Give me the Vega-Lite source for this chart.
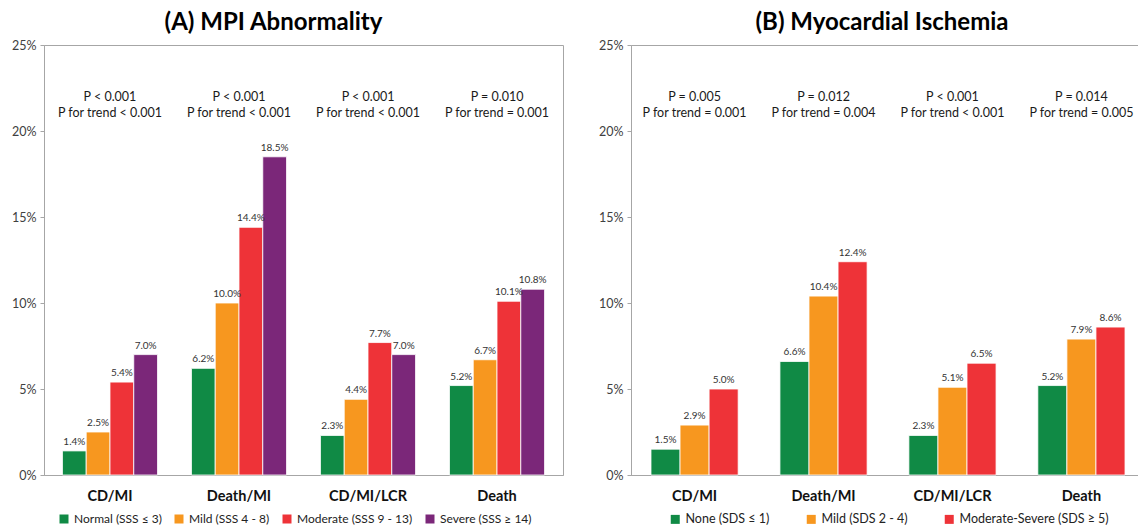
{
  "$schema": "https://vega.github.io/schema/vega-lite/v6.json",
  "background": "white",
  "padding": {"top": 10, "left": 5, "right": 5, "bottom": 5},
  "config": {
    "font": "Lato",
    "view": {"stroke": "#a6a6a6", "strokeWidth": 1},
    "axisY": {"domain": true, "domainColor": "#a6a6a6", "tickColor": "#a6a6a6", "tickSize": 4, "labelPadding": 4, "labelFontSize": 12.5, "labelColor": "#404040", "grid": false, "title": null, "minExtent": 38, "maxExtent": 38},
    "axisX": {"domainColor": "#a6a6a6", "ticks": false, "labelFontSize": 14.5, "labelFontWeight": "bold", "labelColor": "#111", "labelPadding": 14, "grid": false, "title": null, "labelAngle": 0}
  },
  "spacing": 28,
  "hconcat": [
    {
      "width": 519,
      "height": 430,
      "title": {"text": "(A) MPI Abnormality", "fontSize": 24, "fontWeight": "bold", "color": "#000", "offset": 4, "dx": -30},
      "layer": [
        {
          "data": {"values": [
            {"outcome": "CD/MI", "group": "Normal (SSS ≤ 3)", "value": 0.014},
            {"outcome": "CD/MI", "group": "Mild (SSS 4 - 8)", "value": 0.025},
            {"outcome": "CD/MI", "group": "Moderate (SSS 9 - 13)", "value": 0.054},
            {"outcome": "CD/MI", "group": "Severe (SSS ≥ 14)", "value": 0.070},
            {"outcome": "Death/MI", "group": "Normal (SSS ≤ 3)", "value": 0.062},
            {"outcome": "Death/MI", "group": "Mild (SSS 4 - 8)", "value": 0.100},
            {"outcome": "Death/MI", "group": "Moderate (SSS 9 - 13)", "value": 0.144},
            {"outcome": "Death/MI", "group": "Severe (SSS ≥ 14)", "value": 0.185},
            {"outcome": "CD/MI/LCR", "group": "Normal (SSS ≤ 3)", "value": 0.023},
            {"outcome": "CD/MI/LCR", "group": "Mild (SSS 4 - 8)", "value": 0.044},
            {"outcome": "CD/MI/LCR", "group": "Moderate (SSS 9 - 13)", "value": 0.077},
            {"outcome": "CD/MI/LCR", "group": "Severe (SSS ≥ 14)", "value": 0.070},
            {"outcome": "Death", "group": "Normal (SSS ≤ 3)", "value": 0.052},
            {"outcome": "Death", "group": "Mild (SSS 4 - 8)", "value": 0.067},
            {"outcome": "Death", "group": "Moderate (SSS 9 - 13)", "value": 0.101},
            {"outcome": "Death", "group": "Severe (SSS ≥ 14)", "value": 0.108}
          ]},
          "layer": [
            {
              "mark": {"type": "bar", "stroke": "#ffffff", "strokeWidth": 0.8},
              "encoding": {
                "x": {"field": "outcome", "type": "nominal", "sort": ["CD/MI", "Death/MI", "CD/MI/LCR", "Death"], "scale": {"paddingInner": 0.263, "paddingOuter": 0.143}},
                "xOffset": {"field": "group", "type": "nominal", "scale": {"domain": ["Normal (SSS ≤ 3)", "Mild (SSS 4 - 8)", "Moderate (SSS 9 - 13)", "Severe (SSS ≥ 14)"], "paddingInner": 0, "paddingOuter": 0}},
                "y": {"field": "value", "type": "quantitative", "scale": {"domain": [0, 0.25], "nice": false}, "axis": {"values": [0, 0.05, 0.1, 0.15, 0.2, 0.25], "format": ".0%"}},
                "color": {"field": "group", "type": "nominal", "scale": {"domain": ["Normal (SSS ≤ 3)", "Mild (SSS 4 - 8)", "Moderate (SSS 9 - 13)", "Severe (SSS ≥ 14)"], "range": ["#108a45", "#f7971f", "#ee3338", "#7b2779"]},
                  "legend": {"orient": "none", "legendX": 14, "legendY": 468, "direction": "horizontal", "title": null, "symbolType": "square", "symbolSize": 81, "symbolStrokeWidth": 0, "labelFontSize": 12, "labelColor": "#222", "labelOffset": 4, "columnPadding": 11, "padding": 0}}
              }
            },
            {
              "mark": {"type": "text", "baseline": "bottom", "dy": -4, "fontSize": 10, "color": "#333"},
              "encoding": {
                "x": {"field": "outcome", "type": "nominal", "sort": ["CD/MI", "Death/MI", "CD/MI/LCR", "Death"]},
                "xOffset": {"field": "group", "type": "nominal"},
                "y": {"field": "value", "type": "quantitative"},
                "text": {"field": "value", "type": "quantitative", "format": ".1%"}
              }
            }
          ]
        },
        {
          "data": {"values": [
            {"outcome": "CD/MI", "p": "P < 0.001", "trend": "P for trend < 0.001"},
            {"outcome": "Death/MI", "p": "P < 0.001", "trend": "P for trend < 0.001"},
            {"outcome": "CD/MI/LCR", "p": "P < 0.001", "trend": "P for trend < 0.001"},
            {"outcome": "Death", "p": "P = 0.010", "trend": "P for trend = 0.001"}
          ]},
          "layer": [
            {
              "mark": {"type": "text", "fontSize": 12.5, "color": "#1a1a1a", "baseline": "middle"},
              "encoding": {
                "x": {"field": "outcome", "type": "nominal", "sort": ["CD/MI", "Death/MI", "CD/MI/LCR", "Death"]},
                "y": {"datum": 0.2198},
                "text": {"field": "p", "type": "nominal"}
              }
            },
            {
              "mark": {"type": "text", "fontSize": 12.5, "color": "#1a1a1a", "baseline": "middle"},
              "encoding": {
                "x": {"field": "outcome", "type": "nominal", "sort": ["CD/MI", "Death/MI", "CD/MI/LCR", "Death"]},
                "y": {"datum": 0.2105},
                "text": {"field": "trend", "type": "nominal"}
              }
            }
          ]
        }
      ]
    },
    {
      "width": 514,
      "height": 430,
      "title": {"text": "(B) Myocardial Ischemia", "fontSize": 24, "fontWeight": "bold", "color": "#000", "offset": 4, "dx": -6},
      "layer": [
        {
          "data": {"values": [
            {"outcome": "CD/MI", "group": "None (SDS ≤ 1)", "value": 0.015},
            {"outcome": "CD/MI", "group": "Mild (SDS 2 - 4)", "value": 0.029},
            {"outcome": "CD/MI", "group": "Moderate-Severe (SDS ≥ 5)", "value": 0.050},
            {"outcome": "Death/MI", "group": "None (SDS ≤ 1)", "value": 0.066},
            {"outcome": "Death/MI", "group": "Mild (SDS 2 - 4)", "value": 0.104},
            {"outcome": "Death/MI", "group": "Moderate-Severe (SDS ≥ 5)", "value": 0.124},
            {"outcome": "CD/MI/LCR", "group": "None (SDS ≤ 1)", "value": 0.023},
            {"outcome": "CD/MI/LCR", "group": "Mild (SDS 2 - 4)", "value": 0.051},
            {"outcome": "CD/MI/LCR", "group": "Moderate-Severe (SDS ≥ 5)", "value": 0.065},
            {"outcome": "Death", "group": "None (SDS ≤ 1)", "value": 0.052},
            {"outcome": "Death", "group": "Mild (SDS 2 - 4)", "value": 0.079},
            {"outcome": "Death", "group": "Moderate-Severe (SDS ≥ 5)", "value": 0.086}
          ]},
          "layer": [
            {
              "mark": {"type": "bar", "stroke": "#ffffff", "strokeWidth": 0.8},
              "encoding": {
                "x": {"field": "outcome", "type": "nominal", "sort": ["CD/MI", "Death/MI", "CD/MI/LCR", "Death"], "scale": {"paddingInner": 0.324, "paddingOuter": 0.155}},
                "xOffset": {"field": "group", "type": "nominal", "scale": {"domain": ["None (SDS ≤ 1)", "Mild (SDS 2 - 4)", "Moderate-Severe (SDS ≥ 5)"], "paddingInner": 0, "paddingOuter": 0}},
                "y": {"field": "value", "type": "quantitative", "scale": {"domain": [0, 0.25], "nice": false}, "axis": {"values": [0, 0.05, 0.1, 0.15, 0.2, 0.25], "format": ".0%"}},
                "color": {"field": "group", "type": "nominal", "scale": {"domain": ["None (SDS ≤ 1)", "Mild (SDS 2 - 4)", "Moderate-Severe (SDS ≥ 5)"], "range": ["#108a45", "#f7971f", "#ee3338"]},
                  "legend": {"orient": "none", "legendX": 38, "legendY": 468, "direction": "horizontal", "title": null, "symbolType": "square", "symbolSize": 81, "symbolStrokeWidth": 0, "labelFontSize": 12.5, "labelColor": "#222", "labelOffset": 4, "columnPadding": 35, "padding": 0}}
              }
            },
            {
              "mark": {"type": "text", "baseline": "bottom", "dy": -4, "fontSize": 10, "color": "#333"},
              "encoding": {
                "x": {"field": "outcome", "type": "nominal", "sort": ["CD/MI", "Death/MI", "CD/MI/LCR", "Death"]},
                "xOffset": {"field": "group", "type": "nominal"},
                "y": {"field": "value", "type": "quantitative"},
                "text": {"field": "value", "type": "quantitative", "format": ".1%"}
              }
            }
          ]
        },
        {
          "data": {"values": [
            {"outcome": "CD/MI", "p": "P = 0.005", "trend": "P for trend = 0.001"},
            {"outcome": "Death/MI", "p": "P = 0.012", "trend": "P for trend = 0.004"},
            {"outcome": "CD/MI/LCR", "p": "P < 0.001", "trend": "P for trend < 0.001"},
            {"outcome": "Death", "p": "P = 0.014", "trend": "P for trend = 0.005"}
          ]},
          "layer": [
            {
              "mark": {"type": "text", "fontSize": 12.5, "color": "#1a1a1a", "baseline": "middle"},
              "encoding": {
                "x": {"field": "outcome", "type": "nominal", "sort": ["CD/MI", "Death/MI", "CD/MI/LCR", "Death"]},
                "y": {"datum": 0.2198},
                "text": {"field": "p", "type": "nominal"}
              }
            },
            {
              "mark": {"type": "text", "fontSize": 12.5, "color": "#1a1a1a", "baseline": "middle"},
              "encoding": {
                "x": {"field": "outcome", "type": "nominal", "sort": ["CD/MI", "Death/MI", "CD/MI/LCR", "Death"]},
                "y": {"datum": 0.2105},
                "text": {"field": "trend", "type": "nominal"}
              }
            }
          ]
        }
      ]
    }
  ],
  "resolve": {"scale": {"color": "independent", "x": "independent", "xOffset": "independent", "y": "independent"}, "legend": {"color": "independent"}}
}
